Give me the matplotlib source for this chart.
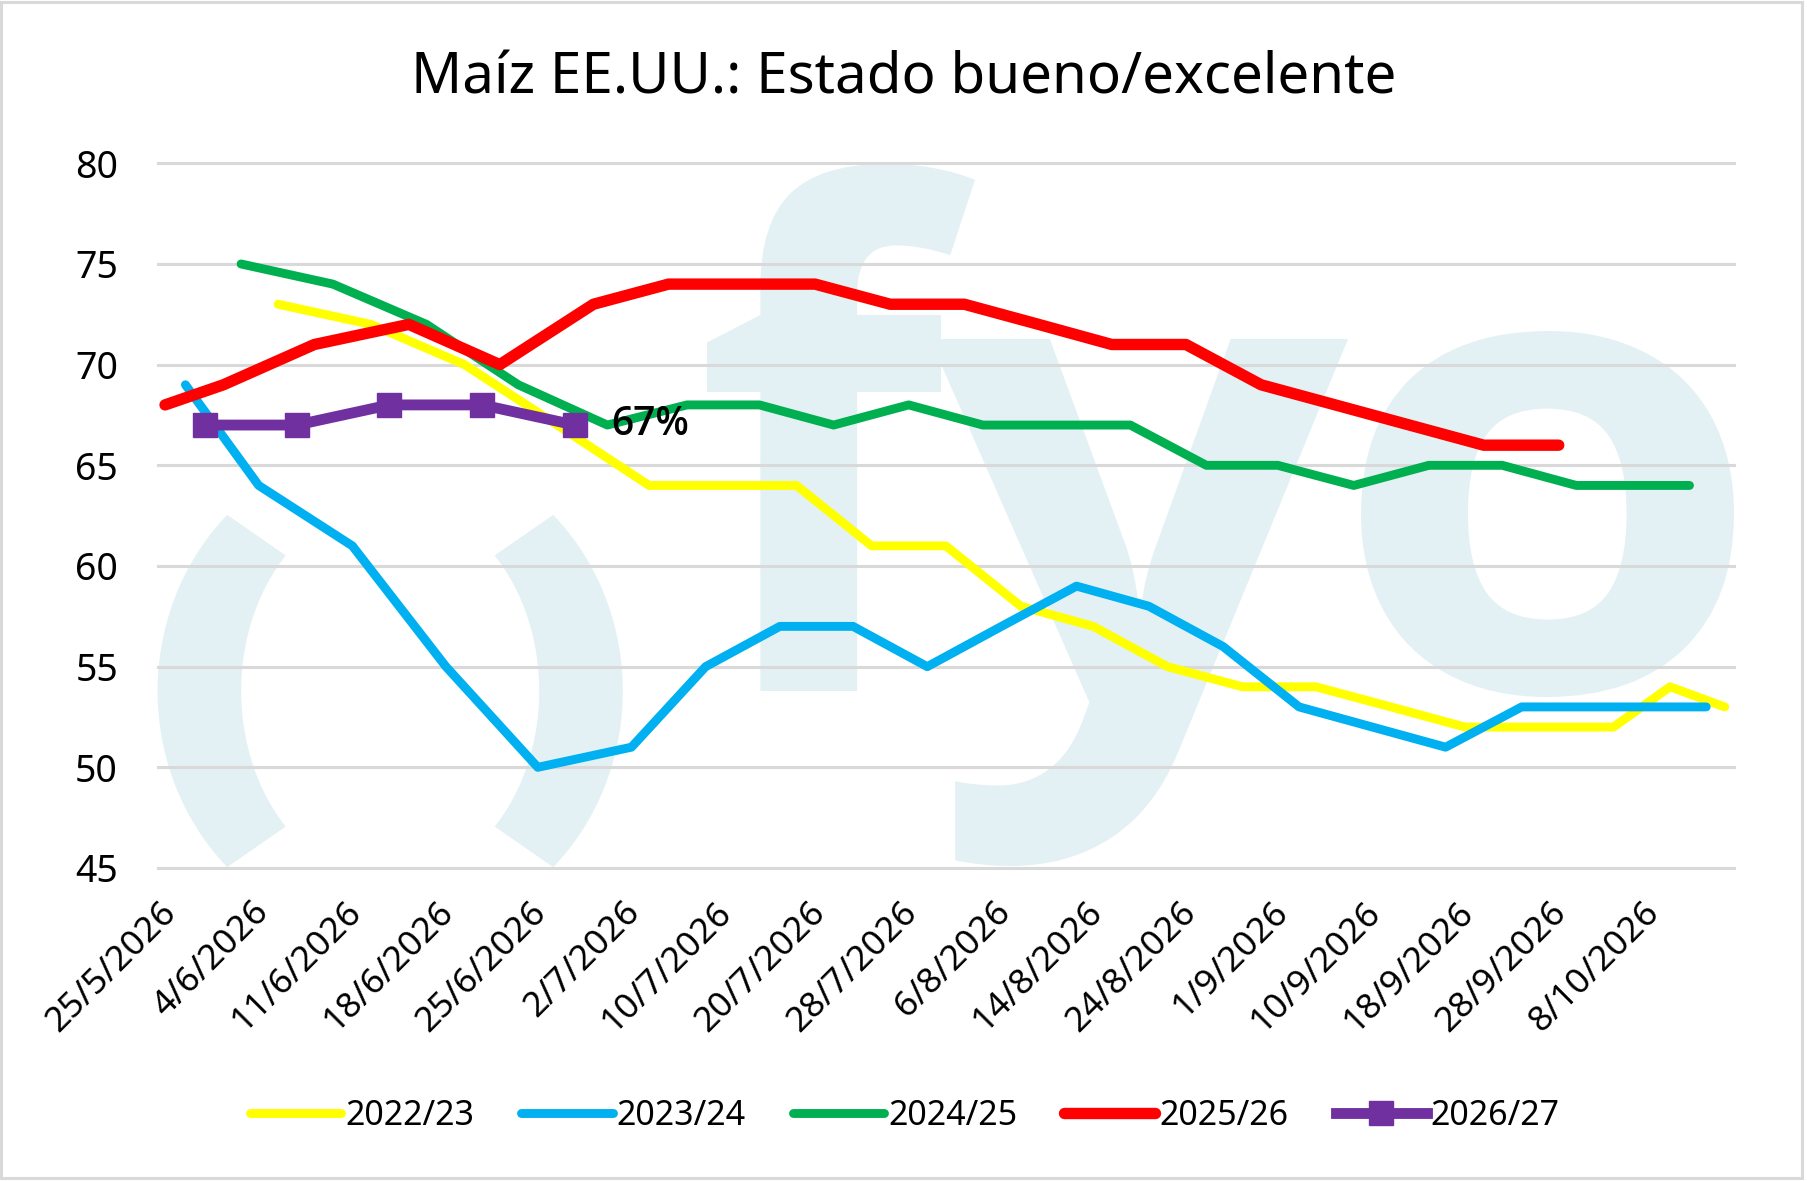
import matplotlib
matplotlib.use('Agg')
import matplotlib.pyplot as plt
import numpy as np
from matplotlib.patches import Polygon, PathPatch, Rectangle
from matplotlib.textpath import TextPath
from matplotlib.font_manager import FontProperties
from matplotlib.transforms import Affine2D, ScaledTranslation

plt.rcParams['font.family'] = ['Noto Sans', 'DejaVu Sans']

W, H, DPI = 1808, 1181, 100

# --- data (x in axis-tick units) ---
tick_labels = ['25/5/2026', '4/6/2026', '11/6/2026', '18/6/2026', '25/6/2026',
               '2/7/2026', '10/7/2026', '20/7/2026', '28/7/2026', '6/8/2026',
               '14/8/2026', '24/8/2026', '1/9/2026', '10/9/2026', '18/9/2026',
               '28/9/2026', '8/10/2026']
seasons = ['2022/23', '2023/24', '2024/25', '2025/26', '2026/27']

x_2223 = [1.30, 2.30, 3.31, 4.31, 5.30, 6.10, 6.89, 7.70, 8.50, 9.31,
          10.09, 10.89, 11.70, 12.49, 13.30, 14.10, 14.90, 15.70, 16.31, 16.90]
y_2223 = [73, 72, 70, 67, 64, 64, 64, 61, 61, 58,
          57, 55, 54, 54, 53, 52, 52, 52, 54, 53]

x_2324 = [0.30, 1.09, 2.10, 3.11, 4.10, 5.11, 5.91, 6.71, 7.50, 8.30, 9.10,
          9.91, 10.69, 11.49, 12.31, 13.10, 13.89, 14.71, 15.50, 16.10, 16.70]
y_2324 = [69, 64, 61, 55, 50, 51, 55, 57, 57, 55, 57,
          59, 58, 56, 53, 52, 51, 53, 53, 53, 53]

x_2425 = [0.90, 1.89, 2.90, 3.89, 4.85, 5.71, 6.49, 7.29, 8.10, 8.90,
          9.70, 10.49, 11.31, 12.08, 12.90, 13.71, 14.50, 15.30, 15.90, 16.52]
y_2425 = [75, 74, 72, 69, 67, 68, 68, 67, 68, 67,
          67, 67, 65, 65, 64, 65, 65, 64, 64, 64]

x_2526 = [0.08, 0.71, 1.69, 2.71, 3.69, 4.70, 5.51, 6.30, 7.09, 7.90,
          8.70, 9.50, 10.29, 11.09, 11.90, 12.70, 13.50, 14.30, 15.11]
y_2526 = [68, 69, 71, 72, 70, 73, 74, 74, 74, 73,
          73, 72, 71, 71, 69, 68, 67, 66, 66]

x_2627 = [0.51, 1.50, 2.50, 3.50, 4.50]
y_2627 = [67, 67, 68, 68, 67]

colors = ['#FFFF00', '#00B0F0', '#00B050', '#FF0000', '#7030A0']
WM = '#E3F1F5'

fig = plt.figure(figsize=(W / DPI, H / DPI), dpi=DPI)

# background layer in pixel coords (y up) for watermark + border
bg = fig.add_axes([0, 0, 1, 1], zorder=0)
bg.set_xlim(0, W)
bg.set_ylim(0, H)
bg.axis('off')


def paren(t0, t1, cx=390.2, cy=H - 691, a_out=232.6, b_out=247, a_in=149, b_in=190):
    t = np.radians(np.linspace(t0, t1, 80))
    outer = np.column_stack([cx + a_out * np.cos(t), cy + b_out * np.sin(t)])
    inner = np.column_stack([cx + a_in * np.cos(t[::-1]), cy + b_in * np.sin(t[::-1])])
    bg.add_patch(Polygon(np.vstack([outer, inner]), closed=True, fc=WM, ec='none'))


paren(134.5, 225.5)
paren(-45.5, 45.5)

logo_font = FontProperties(family='Open Sans', weight='bold')


def glyph(ch, x0, x1, ytop, ybot):
    p = TextPath((0, 0), ch, size=100, prop=logo_font)
    ext = p.get_extents()
    sx = (x1 - x0) / ext.width
    sy = (ybot - ytop) / ext.height
    tr = Affine2D().translate(-ext.x0, -ext.y0).scale(sx, sy).translate(x0, H - ybot)
    bg.add_patch(PathPatch(tr.transform_path(p), fc=WM, ec='none'))


glyph('f', 707, 975, 164, 691)
glyph('y', 930, 1348, 339, 866)
glyph('o', 1361, 1734, 331, 697)

bg.add_patch(Rectangle((1.5, 3.5), 1801, 1176, fill=False, ec='#D9D9D9', lw=2.2))

# main chart
ax = fig.add_axes([157.6 / W, 1 - 868 / H, (1734 - 157.6) / W, (868 - 163.3) / H], zorder=1)
ax.set_facecolor('none')

series = [(x_2223, y_2223, 6.4), (x_2324, y_2324, 6.4), (x_2425, y_2425, 6.4),
          (x_2526, y_2526, 8.2)]
handles = []
for (xs, ys, lw), c in zip(series, colors):
    ln, = ax.plot(xs, ys, color=c, lw=lw, solid_capstyle='round', solid_joinstyle='round')
    handles.append(ln)
ln, = ax.plot(x_2627, y_2627, color=colors[4], lw=7.8, marker='s', ms=17,
              mec=colors[4], solid_joinstyle='round')
handles.append(ln)

ax.annotate(f'{y_2627[-1]}%', (x_2627[-1], y_2627[-1]), xytext=(26, 0),
            textcoords='offset points', ha='left', va='center',
            fontsize=28, fontweight='semibold', family=['Open Sans', 'DejaVu Sans'])

ax.set_xlim(0, 17)
ax.set_ylim(45, 80)
ax.set_yticks(range(45, 81, 5))
ax.set_xticks(range(len(tick_labels)))
ax.set_xticklabels([])
# rotated date labels, anchored a little right of and below each tick
lab_tr = ax.get_xaxis_transform() + ScaledTranslation(13 / DPI, -39 / DPI, fig.dpi_scale_trans)
for i, lab in enumerate(tick_labels):
    ax.text(i, 0, lab, transform=lab_tr, rotation=45, ha='right', va='center',
            rotation_mode='anchor', fontsize=25.5, clip_on=False)
ax.tick_params(axis='x', length=0)
ax.tick_params(axis='y', length=0, pad=28.5, labelsize=27)
for s in ax.spines.values():
    s.set_visible(False)
ax.grid(axis='y', color='#D9D9D9', lw=2.2)
ax.set_axisbelow(True)
for gl in ax.get_ygridlines():
    gl.set_clip_on(False)

fig.text(904 / W, 1 - 93.3 / H, 'Maíz EE.UU.: Estado bueno/excelente',
         ha='center', va='baseline', fontsize=40.7)

fig.legend(handles, seasons, loc='center', bbox_to_anchor=(905 / W, 1 - 1116 / H),
           ncol=5, frameon=False, fontsize=24.5, handlelength=2.68,
           handletextpad=0.12, columnspacing=1.38, borderpad=0, borderaxespad=0)

fig.savefig('out.png', dpi=DPI)
